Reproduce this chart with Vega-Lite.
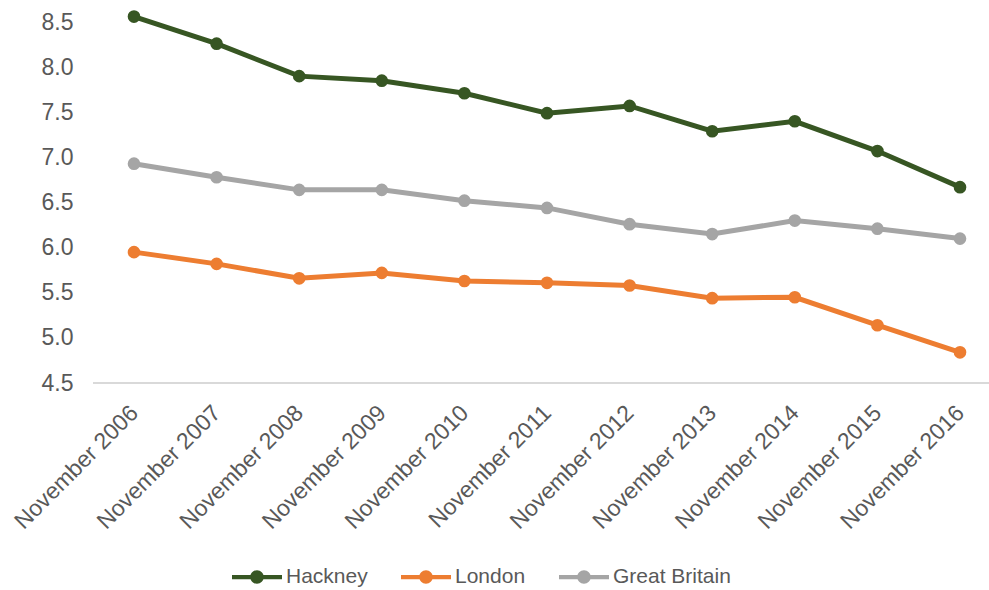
{
  "$schema": "https://vega.github.io/schema/vega-lite/v6.json",
  "autosize": {"type": "none"},
  "width": 896,
  "height": 361,
  "padding": {"left": 93, "top": 22, "right": 0, "bottom": 207},
  "background": "white",
  "config": {
    "font": "Liberation Sans",
    "view": {"stroke": null},
    "axis": {"labelFont": "Liberation Sans", "labelColor": "#595959", "labelFontSize": 23, "grid": false, "ticks": false, "title": null},
    "legend": {"labelFont": "Liberation Sans", "labelColor": "#595959", "labelFontSize": 21}
  },
  "data": {
    "values": [
      {"period": "November 2006", "area": "Hackney", "value": 8.56},
      {"period": "November 2007", "area": "Hackney", "value": 8.26},
      {"period": "November 2008", "area": "Hackney", "value": 7.9},
      {"period": "November 2009", "area": "Hackney", "value": 7.85},
      {"period": "November 2010", "area": "Hackney", "value": 7.71},
      {"period": "November 2011", "area": "Hackney", "value": 7.49},
      {"period": "November 2012", "area": "Hackney", "value": 7.57},
      {"period": "November 2013", "area": "Hackney", "value": 7.29},
      {"period": "November 2014", "area": "Hackney", "value": 7.4},
      {"period": "November 2015", "area": "Hackney", "value": 7.07},
      {"period": "November 2016", "area": "Hackney", "value": 6.67},
      {"period": "November 2006", "area": "London", "value": 5.95},
      {"period": "November 2007", "area": "London", "value": 5.82},
      {"period": "November 2008", "area": "London", "value": 5.66},
      {"period": "November 2009", "area": "London", "value": 5.72},
      {"period": "November 2010", "area": "London", "value": 5.63},
      {"period": "November 2011", "area": "London", "value": 5.61},
      {"period": "November 2012", "area": "London", "value": 5.58},
      {"period": "November 2013", "area": "London", "value": 5.44},
      {"period": "November 2014", "area": "London", "value": 5.45},
      {"period": "November 2015", "area": "London", "value": 5.14},
      {"period": "November 2016", "area": "London", "value": 4.84},
      {"period": "November 2006", "area": "Great Britain", "value": 6.93},
      {"period": "November 2007", "area": "Great Britain", "value": 6.78},
      {"period": "November 2008", "area": "Great Britain", "value": 6.64},
      {"period": "November 2009", "area": "Great Britain", "value": 6.64},
      {"period": "November 2010", "area": "Great Britain", "value": 6.52},
      {"period": "November 2011", "area": "Great Britain", "value": 6.44},
      {"period": "November 2012", "area": "Great Britain", "value": 6.26},
      {"period": "November 2013", "area": "Great Britain", "value": 6.15},
      {"period": "November 2014", "area": "Great Britain", "value": 6.3},
      {"period": "November 2015", "area": "Great Britain", "value": 6.21},
      {"period": "November 2016", "area": "Great Britain", "value": 6.1}
    ]
  },
  "layer": [
    {
      "mark": {"type": "rule", "color": "#d9d9d9", "strokeWidth": 1.5},
      "encoding": {"y": {"datum": 4.5, "type": "quantitative"}}
    },
    {
      "encoding": {
        "x": {
          "field": "period", "type": "ordinal",
          "scale": {"type": "point", "range": [41, 867], "padding": 0},
          "axis": {"labelAngle": -45, "labelAlign": "right", "labelBaseline": "middle", "labelPadding": 26, "domain": false}
        },
        "y": {
          "field": "value", "type": "quantitative",
          "scale": {"domain": [4.5, 8.5], "nice": false, "zero": false},
          "axis": {"values": [4.5, 5, 5.5, 6, 6.5, 7, 7.5, 8, 8.5], "format": ".1f", "domain": false, "labelPadding": 20}
        },
        "color": {
          "field": "area", "type": "nominal",
          "scale": {"domain": ["Hackney", "London", "Great Britain"], "range": ["#375623", "#ED7D31", "#A5A5A5"]},
          "legend": {
            "title": null, "orient": "none", "direction": "horizontal", "legendX": 139, "legendY": 530,
            "symbolType": "M-1,-0.085L-0.2,-0.085L-0.2,0.085L-1,0.085Z M0.2,-0.085L1,-0.085L1,0.085L0.2,0.085Z M-0.27,0 A0.27,0.27 0 1,1 0.27,0 A0.27,0.27 0 1,1 -0.27,0 Z",
            "symbolSize": 2500, "symbolStrokeWidth": 0, "symbolOpacity": 1,
            "labelOffset": 4, "columnPadding": 33
          }
        }
      },
      "layer": [
        {"mark": {"type": "line", "strokeWidth": 5}},
        {"mark": {"type": "point", "filled": true, "size": 160, "opacity": 1, "shape": "circle"}}
      ]
    }
  ]
}
